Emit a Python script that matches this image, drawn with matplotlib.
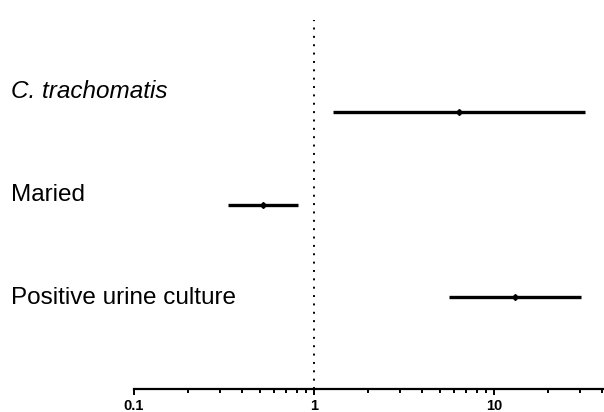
import numpy as np
import matplotlib
matplotlib.use('Agg')
from matplotlib import pyplot as plt
from matplotlib import transforms

# odds ratios with 95% CI, bottom row first
labels = ['Positive urine culture', 'Maried', 'C. trachomatis']
italic = [False, False, True]
odds = [13.1, 0.52, 6.4]
lower = [5.6, 0.333, 1.27]
upper = [30.5, 0.815, 32.0]
tick_vals = [0.1, 1, 10]
tick_text = ['0.1', '1', '10']

plt.rcParams['font.family'] = ['Liberation Sans', 'DejaVu Sans']

fig = plt.figure(figsize=(6.04, 4.12), dpi=100)
ax = fig.add_axes([134/604, 23/412, 470/604, 369/412])

rows = np.arange(len(labels))
ax.hlines(rows, lower, upper, color='black', lw=2.4)
ax.plot(odds, rows, 'D', color='black', ms=3)
ax.axvline(1, color='black', ls=(0, (1, 3.3)), lw=1.4)

ax.set_xscale('log')
ax.set_xlim(0.1, 10**(470/180 - 1))
ax.set_ylim(-1, 3)

ax.set_xticks(tick_vals)
ax.set_xticklabels(tick_text, fontweight='bold', fontsize=10.5)
ax.tick_params(axis='x', which='major', length=4, width=1.4, pad=3)
ax.tick_params(axis='x', which='minor', length=3, width=1.4)
ax.set_yticks([])
for s in ['top', 'right', 'left']:
    ax.spines[s].set_visible(False)
ax.spines['bottom'].set_linewidth(1.6)

# row labels to the left of the axis
trans = transforms.blended_transform_factory(fig.transFigure, ax.transData)
label_y = [-0.01, 1.1, 2.22]
for i in range(len(labels)):
    ax.text(11/604, label_y[i], labels[i], transform=trans,
            fontsize=17.5, style='italic' if italic[i] else 'normal',
            va='center', ha='left', clip_on=False)

plt.savefig('out.png', dpi=100)
